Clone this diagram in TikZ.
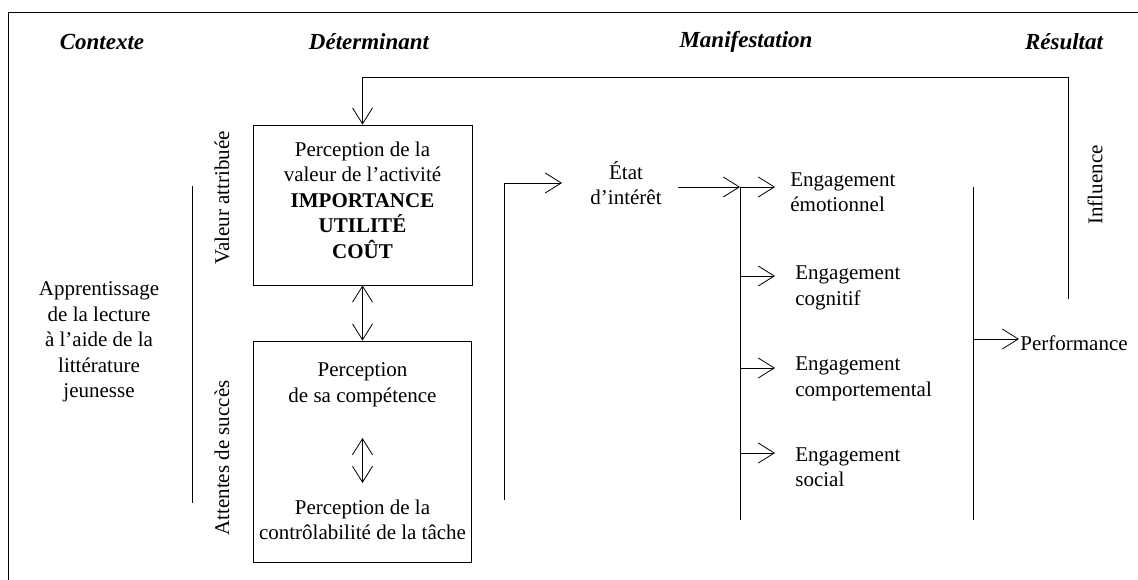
\documentclass[tikz,border=0pt]{standalone}
\usepackage{fontspec}
\setmainfont{Liberation Serif}
\usetikzlibrary{arrows.meta}
\begin{document}
\begin{tikzpicture}[x=1pt,y=-1pt,
  line width=0.8pt,
  txt/.style={inner sep=0pt, align=center, font=\fontsize{21}{25.5}\selectfont},
  ltxt/.style={inner sep=0pt, align=left, anchor=west, font=\fontsize{21}{25.5}\selectfont},
  head/.style={inner sep=0pt, font=\fontsize{23}{27}\selectfont\bfseries\itshape},
  boxnode/.style={draw, line width=0.8pt, inner sep=0pt},
  arr/.style={-{Straight Barb[length=16pt,width=20pt,line width=0.8pt]}},
  darr/.style={{Straight Barb[length=16pt,width=20pt,line width=0.8pt]}-{Straight Barb[length=16pt,width=20pt,line width=0.8pt]}}
]
\useasboundingbox (0,0) rectangle (1138,580);
% frame
\draw (1138,12) -- (8,12) -- (8,580);
% headers
\node[head] (hctx) at (102,42) {Contexte};
\node[head] (hdet) at (369,42) {Déterminant};
\node[head] (hman) at (746,42) {Manifestation};
\node[head] (hres) at (1064,42) {Résultat};
% context
\node[txt] (ctx) at (99,342) {Apprentissage\\de la lecture\\à l’aide de la\\littérature\\jeunesse};
\coordinate (ctxtop) at (192,186);
\coordinate (ctxbot) at (192,503);
\draw (ctxtop) -- (ctxbot);
% rotated labels
\node[txt, rotate=90] (valattr) at (222,198) {Valeur attribuée};
\node[txt, rotate=90] (attsucc) at (222,458) {Attentes de succès};
% boxes
\node[boxnode, minimum width=219pt, minimum height=160pt] (box1) at (362.5,205) {};
\node[txt] (box1t) at (362.5,200) {Perception de la\\valeur de l’activité\\\textbf{IMPORTANCE}\\\textbf{UTILITÉ}\\\textbf{COÛT}};
\node[boxnode, minimum width=218pt, minimum height=221pt] (box2) at (362.5,451.5) {};
\node[txt] (comp) at (362.5,385) {Perception\\de sa compétence};
\node[txt] (ctrl) at (362.5,520) {Perception de la\\contrôlabilité de la tâche};
\coordinate (inA) at (362.5,438);
\coordinate (inB) at (362.5,483);
\draw[darr] (box1.south) -- (box2.north);
\draw[darr] (inA) -- (inB);
% feedback
\coordinate (fbstart) at (1068,299);
\draw[arr] (fbstart) -- (1068,77) -| (box1.north);
\node[txt, rotate=90] (infl) at (1095,185) {Influence};
% bracket to état
\coordinate (brkbot) at (504,500);
\coordinate (etin) at (562,183);
\draw[arr] (brkbot) |- (etin);
\node[txt] (etat) at (626,183) {État\\d’intérêt};
% arrow to engagement column
\coordinate (eta) at (678,187);
\coordinate (engtop) at (740,187);
\coordinate (engbot) at (740,520);
\draw[arr] (eta) -- (engtop);
\draw (engtop) -- (engbot);
\coordinate (e1) at (775,187);
\coordinate (e2s) at (740,276);
\coordinate (e2) at (775,276);
\coordinate (e3s) at (740,368);
\coordinate (e3) at (775,368);
\coordinate (e4s) at (740,453);
\coordinate (e4) at (775,453);
\draw[arr] (engtop) -- (e1);
\draw[arr] (e2s) -- (e2);
\draw[arr] (e3s) -- (e3);
\draw[arr] (e4s) -- (e4);
\node[ltxt] (eng1) at (790,192) {Engagement\\émotionnel};
\node[ltxt] (eng2) at (795,288) {Engagement\\cognitif};
\node[ltxt] (eng3) at (795,379) {Engagement\\comportemental};
\node[ltxt] (eng4) at (795,467) {Engagement\\social};
% performance
\coordinate (ptop) at (973,187);
\coordinate (pbot) at (973,520);
\draw (ptop) -- (pbot);
\coordinate (ps) at (973,339);
\coordinate (pe) at (1019,339);
\node[ltxt] (perf) at (1020,343) {Performance};
\draw[arr] (ps) -- (pe);
\end{tikzpicture}
\end{document}
